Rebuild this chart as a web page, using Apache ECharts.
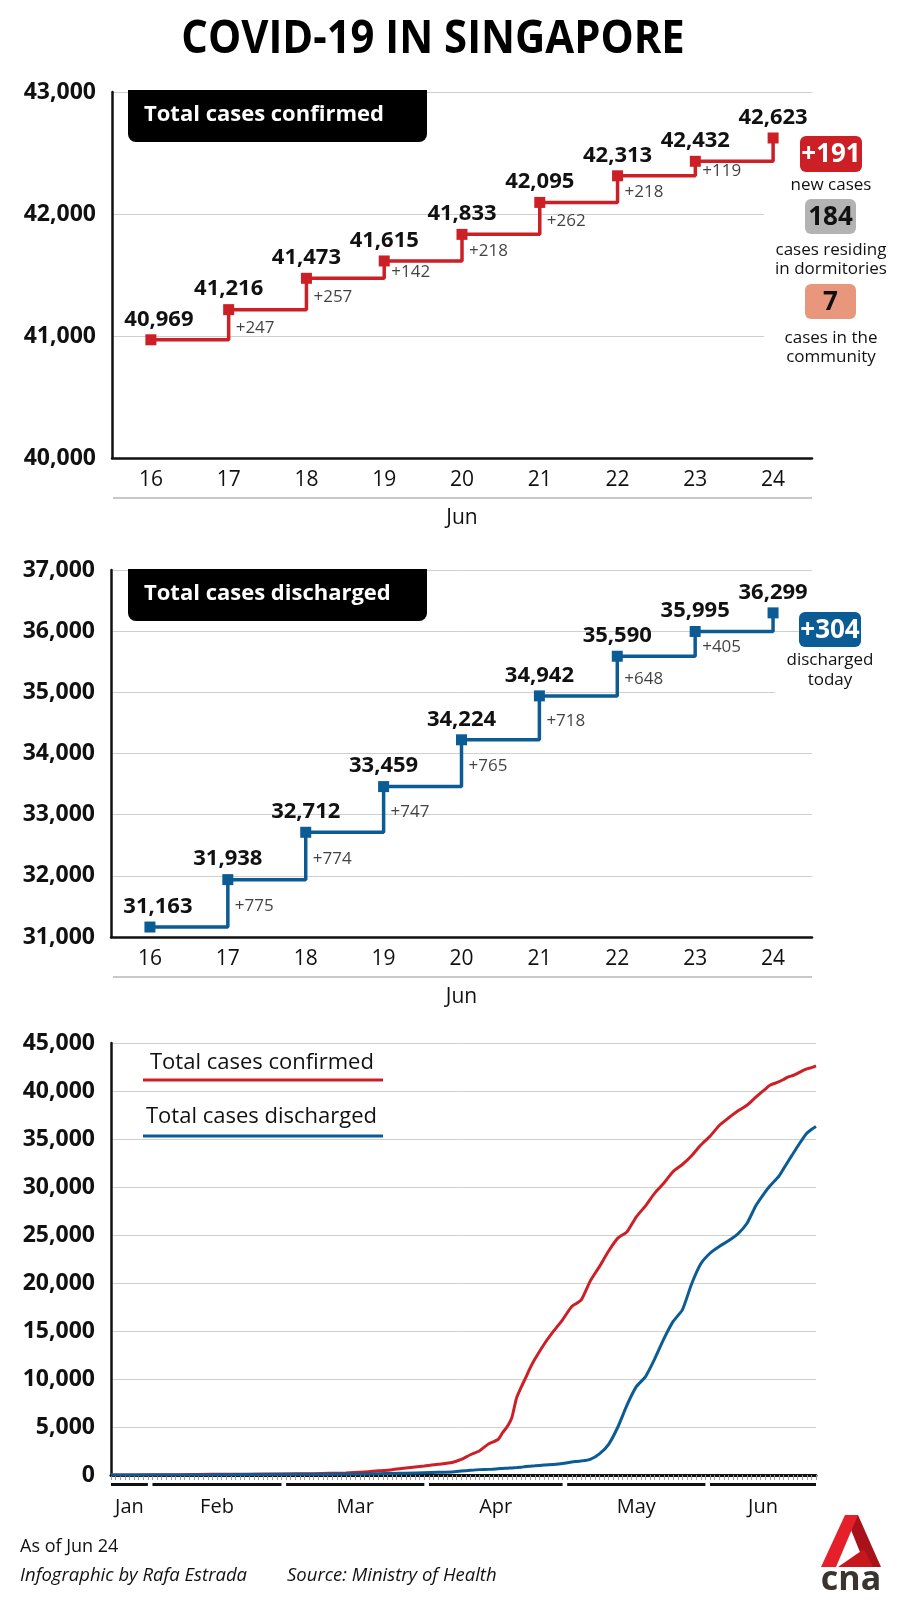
<!DOCTYPE html>
<html lang="en">
<head>
<meta charset="UTF-8">
<title>COVID-19 in Singapore</title>
<script src="https://cdn.jsdelivr.net/npm/echarts@6/dist/echarts.min.js"></script>
<style>
  html, body { margin: 0; padding: 0; background: #fff; }
  #container { width: 900px; height: 1600px; }
</style>
</head>
<body>
<div id="container"></div>
<script>
// ---- data ----
var days = ['16', '17', '18', '19', '20', '21', '22', '23', '24'];
var confirmedTotals = [40969, 41216, 41473, 41615, 41833, 42095, 42313, 42432, 42623];
var confirmedNew = [null, 247, 257, 142, 218, 262, 218, 119, 191];
var dischargedTotals = [31163, 31938, 32712, 33459, 34224, 34942, 35590, 35995, 36299];
var dischargedNew = [null, 775, 774, 747, 765, 718, 648, 405, 304];
var dormCases = 184;
var communityCases = 7;

var confirmedTicks = [40000, 41000, 42000, 43000];
var dischargedTicks = [31000, 32000, 33000, 34000, 35000, 36000, 37000];
var overallTicks = [0, 5000, 10000, 15000, 20000, 25000, 30000, 35000, 40000, 45000];

var lineDates = [
  '2020-01-23', '2020-01-31', '2020-02-07', '2020-02-14', '2020-02-21', '2020-02-29',
  '2020-03-07', '2020-03-14', '2020-03-18', '2020-03-21', '2020-03-24', '2020-03-27', '2020-03-31',
  '2020-04-03', '2020-04-06', '2020-04-08', '2020-04-10', '2020-04-12', '2020-04-14', '2020-04-16',
  '2020-04-17', '2020-04-18', '2020-04-19', '2020-04-20', '2020-04-21', '2020-04-22', '2020-04-23',
  '2020-04-24', '2020-04-26', '2020-04-28', '2020-04-30',
  '2020-05-02', '2020-05-04', '2020-05-06', '2020-05-08', '2020-05-10', '2020-05-12', '2020-05-14',
  '2020-05-16', '2020-05-18', '2020-05-20', '2020-05-22', '2020-05-24', '2020-05-26', '2020-05-28',
  '2020-05-30',
  '2020-06-01', '2020-06-03', '2020-06-05', '2020-06-07', '2020-06-09', '2020-06-11', '2020-06-13',
  '2020-06-14', '2020-06-16', '2020-06-17', '2020-06-18', '2020-06-19', '2020-06-20', '2020-06-21',
  '2020-06-22', '2020-06-23', '2020-06-24'
];
var confirmedLine = [
  1, 16, 30, 67, 86, 102,
  138, 212, 313, 432, 558, 732, 926,
  1114, 1309, 1623, 2108, 2532, 3252, 3699,
  4427, 5050, 5992, 8014, 9125, 10141, 11178,
  12075, 13624, 14951, 16169,
  17548, 18205, 20198, 21707, 23336, 24671, 25346,
  26891, 28038, 29364, 30426, 31616, 32343, 33249,
  34366,
  35292, 36405, 37183, 37910, 38514, 39387, 40197,
  40604, 40969, 41216, 41473, 41615, 41833, 42095,
  42313, 42432, 42623
];
var dischargedLine = [
  0, 0, 1, 17, 51, 72,
  78, 105, 114, 140, 160, 183, 240,
  282, 320, 406, 492, 560, 586, 652,
  683, 708, 740, 768, 801, 896, 924,
  956, 1038, 1095, 1188,
  1347, 1457, 1634, 2200, 3200, 5000, 7300,
  9200, 10250, 12100, 14200, 16000, 17200, 19900,
  22000,
  23100, 23800, 24400, 25100, 26200, 28100, 29500,
  30100, 31163, 31938, 32712, 33459, 34224, 34942,
  35590, 35995, 36299
];

var monthSpans = [
  ['2020-01-23', '2020-01-31'], ['2020-02-01', '2020-02-29'], ['2020-03-01', '2020-03-31'],
  ['2020-04-01', '2020-04-30'], ['2020-05-01', '2020-05-31'], ['2020-06-01', '2020-06-24']
];
var monthLabels = ['Jan', 'Feb', 'Mar', 'Apr', 'May', 'Jun'];

// ---- style ----
var RED = '#cc1f26';
var BLUE = '#0b5b95';
var INK = '#111';
var FONT = '"Open Sans", "Noto Sans", sans-serif';

function fmt(v) { return Number(v).toLocaleString('en-US'); }

function stepData(totals) {
  return totals.map(function (v, i) {
    return i === 0 ? { value: v, label: { offset: [8, 0] } } : v;
  });
}
// increments sit beside the middle of each riser
function riserData(totals, incs) {
  var out = [];
  for (var i = 1; i < totals.length - 1; i++) {
    out.push([i, (totals[i - 1] + totals[i]) / 2, incs[i]]);
  }
  return out;
}

function catAxis(gridIndex) {
  return {
    type: 'category', gridIndex: gridIndex, data: days, boundaryGap: true,
    name: 'Jun', nameLocation: 'middle', nameGap: 60,
    nameTextStyle: { fontFamily: FONT, fontSize: 21, color: INK, verticalAlign: 'middle' },
    axisLine: { lineStyle: { color: INK, width: 2.5 } },
    axisTick: { length: 8, lineStyle: { color: INK, width: 1.5 } },
    axisLabel: { fontFamily: FONT, fontSize: 21, color: INK, margin: 12 }
  };
}
function valAxis(gridIndex, ticks, shift) {
  return {
    type: 'value', gridIndex: gridIndex,
    min: ticks[0], max: ticks[ticks.length - 1], interval: ticks[1] - ticks[0],
    axisLine: { show: true, lineStyle: { color: INK, width: 2.5 } },
    axisTick: { show: false },
    splitLine: { lineStyle: { color: '#cfcfcf', width: 1 } },
    axisLabel: {
      fontFamily: FONT, fontSize: 23, fontWeight: 'bold', color: INK, margin: 16,
      verticalAlign: 'middle', padding: [shift, 0, 0, 0],
      formatter: function (v) { return fmt(v); }
    }
  };
}

function stepSeries(idx, totals, color) {
  return {
    type: 'line', xAxisIndex: idx, yAxisIndex: idx, step: 'end', z: 3,
    data: stepData(totals), symbol: 'rect', symbolSize: 11, showAllSymbol: true,
    lineStyle: { color: color, width: 3.5 }, itemStyle: { color: color },
    label: {
      show: true, position: 'top', distance: 4,
      fontFamily: FONT, fontSize: 22, fontWeight: 'bold', color: INK,
      formatter: function (p) { return fmt(p.value); }
    },
    emphasis: { disabled: true }
  };
}
function riserSeries(idx, totals, incs) {
  return {
    type: 'scatter', xAxisIndex: idx, yAxisIndex: idx, z: 4,
    data: riserData(totals, incs), symbolSize: 0,
    label: {
      show: true, position: 'right', distance: 7, offset: [0, 3],
      fontFamily: FONT, fontSize: 17, color: INK,
      formatter: function (p) { return '+' + p.value[2]; }
    },
    emphasis: { disabled: true }
  };
}

function titleBox(y, text) {
  return [
    { type: 'rect', z: 10, shape: { x: 128, y: y, width: 299, height: 52, r: [0, 0, 8, 8] }, style: { fill: '#000' } },
    { type: 'text', z: 11, style: { text: text, x: 144, y: y + 25, verticalAlign: 'middle', font: 'bold 22px ' + FONT, fill: '#fff' } }
  ];
}
function badge(x, y, w, h, fill, text, color) {
  return [
    { type: 'rect', z: 10, shape: { x: x, y: y, width: w, height: h, r: 6 }, style: { fill: fill } },
    { type: 'text', z: 11, style: { text: text, x: x + w / 2, y: y + h / 2 + 1, align: 'center', verticalAlign: 'middle', font: 'bold 26px ' + FONT, fill: color } }
  ];
}
function note(x, y, text) {
  return { type: 'text', z: 11, style: { text: text, x: x, y: y, align: 'center', verticalAlign: 'middle', font: '17px ' + FONT, fill: INK } };
}

var graphics = [].concat(
  [{ type: 'text', z: 11, x: 433, y: 40, scaleX: 0.89,
     style: { text: 'COVID-19 IN SINGAPORE', x: 0, y: 0, align: 'center', verticalAlign: 'middle', font: 'bold 47px ' + FONT, fill: '#000' } }],
  titleBox(90, 'Total cases confirmed'),
  titleBox(569, 'Total cases discharged'),
  // white patches behind the side notes
  [{ type: 'rect', z: 1, shape: { x: 764, y: 176, width: 60, height: 190 }, style: { fill: '#fff' } },
   { type: 'rect', z: 1, shape: { x: 775, y: 654, width: 50, height: 40 }, style: { fill: '#fff' } }],
  badge(800, 136, 62, 36, RED, '+' + confirmedNew[confirmedNew.length - 1], '#fff'),
  [note(831, 185, 'new cases')],
  badge(805, 199, 51, 35, '#b3b3b3', String(dormCases), INK),
  [note(831, 250, 'cases residing'), note(831, 269, 'in dormitories')],
  badge(805, 284, 51, 35, '#e8977d', String(communityCases), INK),
  [note(831, 338, 'cases in the'), note(831, 357, 'community')],
  badge(799, 612, 62, 35, BLUE, '+' + dischargedNew[dischargedNew.length - 1], '#fff'),
  [note(830, 660, 'discharged'), note(830, 680, 'today')],
  // separators under the day labels
  [{ type: 'line', z: 1, shape: { x1: 113, y1: 498, x2: 812, y2: 498 }, style: { stroke: '#c8c8c8', lineWidth: 2 } },
   { type: 'line', z: 1, shape: { x1: 113, y1: 977, x2: 812, y2: 977 }, style: { stroke: '#c8c8c8', lineWidth: 2 } }],
  // legend of the bottom chart
  [{ type: 'text', z: 11, style: { text: 'Total cases confirmed', x: 150, y: 1063, verticalAlign: 'middle', font: '22px ' + FONT, fill: INK } },
   { type: 'line', z: 11, shape: { x1: 143, y1: 1080, x2: 383, y2: 1080 }, style: { stroke: RED, lineWidth: 3 } },
   { type: 'text', z: 11, style: { text: 'Total cases discharged', x: 146, y: 1117, verticalAlign: 'middle', font: '22px ' + FONT, fill: INK } },
   { type: 'line', z: 11, shape: { x1: 143, y1: 1136, x2: 383, y2: 1136 }, style: { stroke: BLUE, lineWidth: 3 } }],
  // footer
  [{ type: 'text', z: 11, style: { text: 'As of Jun 24', x: 20, y: 1547, verticalAlign: 'middle', font: '18px ' + FONT, fill: INK } },
   { type: 'text', z: 11, style: { text: 'Infographic by Rafa Estrada', x: 20, y: 1576, verticalAlign: 'middle', font: 'italic 18.5px ' + FONT, fill: INK } },
   { type: 'text', z: 11, style: { text: 'Source: Ministry of Health', x: 287, y: 1576, verticalAlign: 'middle', font: 'italic 18.5px ' + FONT, fill: INK } }],
  // cna logo
  [{ type: 'polygon', z: 11, shape: { points: [[845, 1515], [858, 1515], [881, 1567], [866, 1567]] }, style: { fill: '#a8121a' } },
   { type: 'polygon', z: 12, shape: { points: [[838, 1567], [873, 1567], [864, 1549]] }, style: { fill: '#c8161d' } },
   { type: 'polygon', z: 13, shape: { points: [[845, 1515], [858, 1515], [836, 1567], [821, 1567]] }, style: { fill: '#e5202a' } },
   { type: 'text', z: 11, style: { text: 'cna', x: 851, y: 1580, align: 'center', verticalAlign: 'middle', font: 'bold 34px ' + FONT, fill: '#3b3330' } }]
);

var option = {
  animation: false,
  backgroundColor: '#fff',
  grid: [
    { left: 112, right: 88, top: 92, height: 366 },
    { left: 111, right: 88, top: 570, height: 367 },
    { left: 111, right: 84, top: 1043, height: 432 }
  ],
  xAxis: [
    catAxis(0),
    catAxis(1),
    {
      type: 'time', gridIndex: 2, position: 'bottom',
      min: '2020-01-23', max: '2020-06-24',
      axisLine: { lineStyle: { color: INK, width: 3 } },
      axisTick: { show: false }, axisLabel: { show: false }, splitLine: { show: false }
    },
    {
      // one small tick per day
      type: 'value', gridIndex: 2, position: 'bottom',
      min: 0, max: 153, interval: 1,
      axisLine: { show: false },
      axisTick: { show: true, length: 5, lineStyle: { color: '#9a9a9a', width: 1 } },
      axisLabel: { show: false }, splitLine: { show: false }
    }
  ],
  yAxis: [
    valAxis(0, confirmedTicks, 12),
    valAxis(1, dischargedTicks, 12),
    valAxis(2, overallTicks, 0)
  ],
  series: [
    stepSeries(0, confirmedTotals, RED),
    riserSeries(0, confirmedTotals, confirmedNew),
    stepSeries(1, dischargedTotals, BLUE),
    riserSeries(1, dischargedTotals, dischargedNew),
    {
      type: 'line', xAxisIndex: 2, yAxisIndex: 2, symbol: 'none', z: 3,
      data: lineDates.map(function (d, i) { return [d, confirmedLine[i]]; }),
      lineStyle: { color: RED, width: 3 }, smooth: 0.2
    },
    {
      type: 'line', xAxisIndex: 2, yAxisIndex: 2, symbol: 'none', z: 3,
      data: lineDates.map(function (d, i) { return [d, dischargedLine[i]]; }),
      lineStyle: { color: BLUE, width: 3 }, smooth: 0.2
    },
    {
      // month bars and month names under the time axis
      type: 'custom', xAxisIndex: 2, yAxisIndex: 2, clip: false, silent: true,
      dimensions: [{ name: 'start', type: 'time' }, { name: 'end', type: 'time' }],
      encode: { x: [0, 1] },
      data: monthSpans,
      renderItem: function (params, api) {
        var a = api.coord([api.value(0), 0]);
        var b = api.coord([api.value(1), 0]);
        return {
          type: 'group',
          children: [
            { type: 'rect', shape: { x: a[0], y: a[1] + 8, width: b[0] - a[0], height: 3 }, style: { fill: INK } },
            { type: 'text', style: { text: monthLabels[params.dataIndex], x: (a[0] + b[0]) / 2, y: a[1] + 32, align: 'center', verticalAlign: 'middle', font: '20px ' + FONT, fill: INK } }
          ]
        };
      }
    }
  ],
  graphic: { elements: graphics }
};

var chart = echarts.init(document.getElementById('container'));
chart.setOption(option);
</script>
</body>
</html>
